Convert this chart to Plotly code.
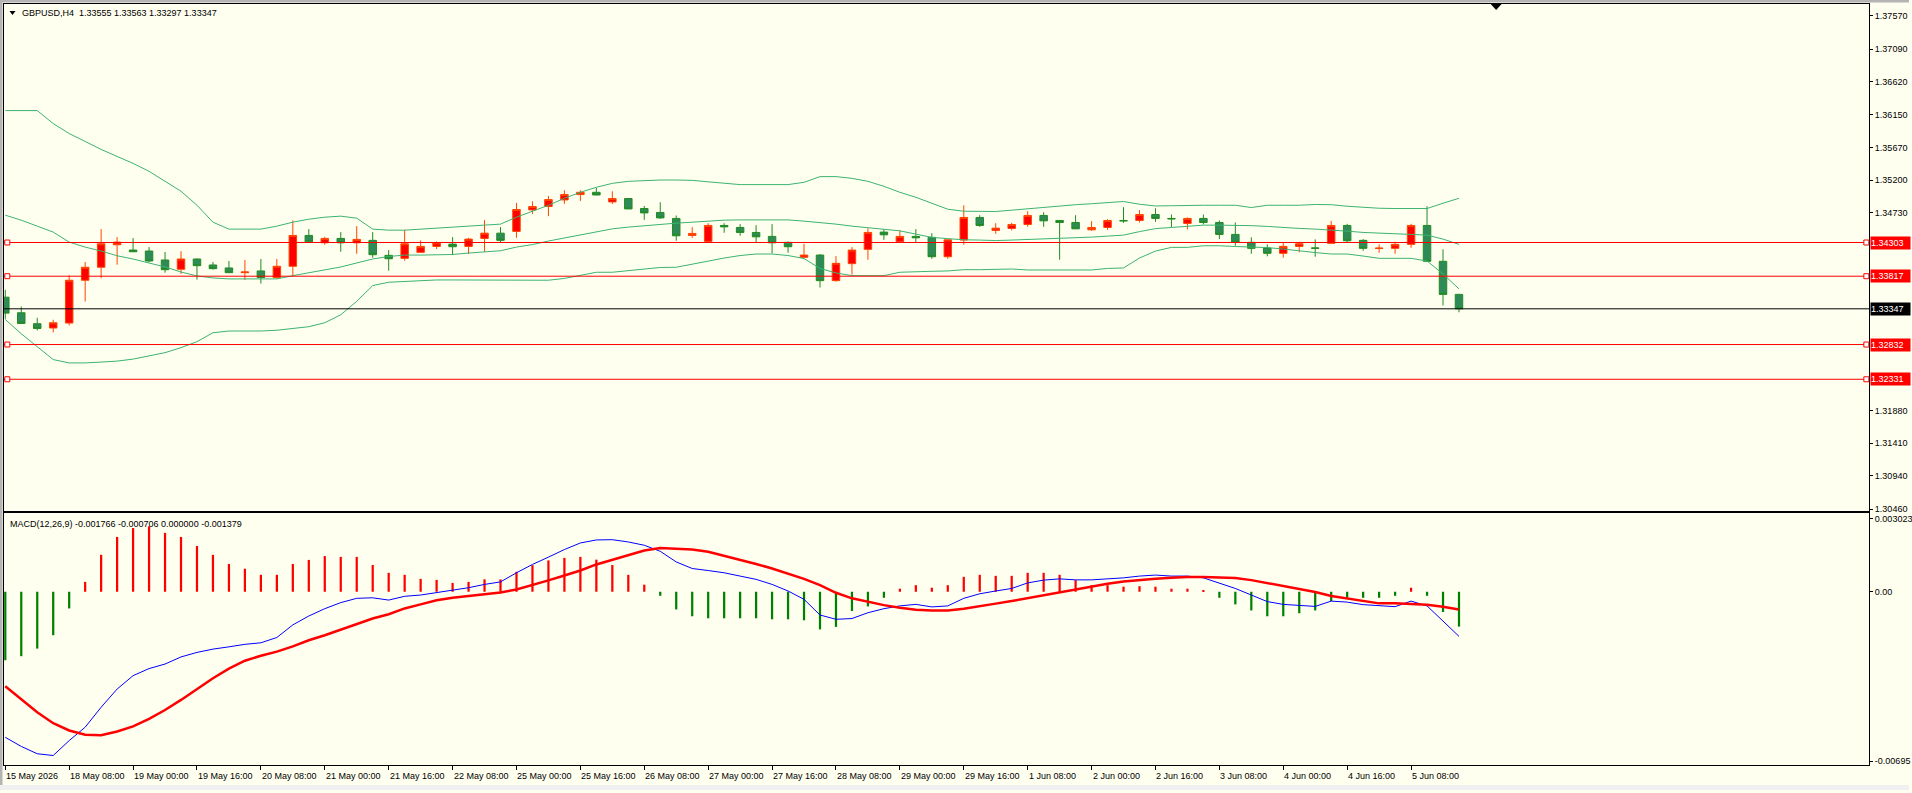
import plotly.graph_objects as go

# ---------------- data ----------------
bar_index = list(range(92))

time_labels = ["15 May 2026", "18 May 08:00", "19 May 00:00", "19 May 16:00", "20 May 08:00",
               "21 May 00:00", "21 May 16:00", "22 May 08:00", "25 May 00:00", "25 May 16:00",
               "26 May 08:00", "27 May 00:00", "27 May 16:00", "28 May 08:00", "29 May 00:00",
               "29 May 16:00", "1 Jun 08:00", "2 Jun 00:00", "2 Jun 16:00", "3 Jun 08:00",
               "4 Jun 00:00", "4 Jun 16:00", "5 Jun 08:00"]
label_bars = list(range(0, 92, 4))[:23]

open_ = [1.33515, 1.33290, 1.33132, 1.33070, 1.33142, 1.33759, 1.33946, 1.34270, 1.34194, 1.34180,
         1.34051, 1.33917, 1.34065, 1.33979, 1.33936, 1.33868, 1.33893, 1.33797, 1.33960, 1.34405,
         1.34299, 1.34362, 1.34299, 1.34334, 1.34118, 1.34075, 1.34161, 1.34247, 1.34280, 1.34247,
         1.34362, 1.34438, 1.34463, 1.34773, 1.34822, 1.34917, 1.34994, 1.35027, 1.34888, 1.34937,
         1.34793, 1.34736, 1.34650, 1.34405, 1.34319, 1.34549, 1.34520, 1.34448, 1.34391, 1.34305,
         1.34089, 1.34122, 1.33753, 1.33998, 1.34204, 1.34453, 1.34313, 1.34391, 1.34377, 1.34098,
         1.34338, 1.34664, 1.34477, 1.34506, 1.34563, 1.34693, 1.34621, 1.34592, 1.34486, 1.34520,
         1.34621, 1.34621, 1.34707, 1.34650, 1.34578, 1.34650, 1.34592, 1.34420, 1.34305, 1.34223,
         1.34147, 1.34247, 1.34225, 1.34291, 1.34549, 1.34334, 1.34216, 1.34219, 1.34276, 1.34549,
         1.34032, 1.33555]
high = [1.33620, 1.33380, 1.33218, 1.33189, 1.33831, 1.34022, 1.34496, 1.34381, 1.34367, 1.34237,
        1.34166, 1.34176, 1.34070, 1.34022, 1.34036, 1.34051, 1.34065, 1.34065, 1.34621, 1.34496,
        1.34385, 1.34453, 1.34539, 1.34453, 1.34194, 1.34486, 1.34334, 1.34319, 1.34381, 1.34371,
        1.34625, 1.34525, 1.34874, 1.34898, 1.34974, 1.35056, 1.35056, 1.35089, 1.35042, 1.34940,
        1.34830, 1.34884, 1.34693, 1.34525, 1.34582, 1.34582, 1.34568, 1.34553, 1.34568, 1.34319,
        1.34285, 1.34137, 1.34108, 1.34237, 1.34506, 1.34492, 1.34481, 1.34496, 1.34438, 1.34345,
        1.34840, 1.34697, 1.34582, 1.34586, 1.34754, 1.34740, 1.34625, 1.34697, 1.34611, 1.34639,
        1.34812, 1.34769, 1.34797, 1.34707, 1.34664, 1.34707, 1.34621, 1.34592, 1.34377, 1.34276,
        1.34309, 1.34313, 1.34348, 1.34615, 1.34572, 1.34352, 1.34276, 1.34313, 1.34572, 1.34826,
        1.34204, 1.33563]
low = [1.33203, 1.33130, 1.33035, 1.33007, 1.33107, 1.33452, 1.33788, 1.33983, 1.34165, 1.34018,
       1.33868, 1.33850, 1.33768, 1.33911, 1.33865, 1.33763, 1.33710, 1.33778, 1.33817, 1.34299,
       1.34270, 1.34170, 1.34141, 1.34084, 1.33897, 1.34041, 1.34155, 1.34209, 1.34127, 1.34137,
       1.34170, 1.34295, 1.34371, 1.34716, 1.34683, 1.34859, 1.34902, 1.34985, 1.34859, 1.34785,
       1.34629, 1.34644, 1.34328, 1.34371, 1.34315, 1.34443, 1.34400, 1.34295, 1.34147, 1.34156,
       1.34075, 1.33653, 1.33739, 1.33840, 1.34055, 1.34342, 1.34310, 1.34299, 1.34069, 1.34069,
       1.34270, 1.34529, 1.34428, 1.34477, 1.34529, 1.34529, 1.34055, 1.34496, 1.34471, 1.34486,
       1.34586, 1.34592, 1.34601, 1.34525, 1.34492, 1.34563, 1.34352, 1.34256, 1.34141, 1.34104,
       1.34084, 1.34161, 1.34098, 1.34288, 1.34299, 1.34184, 1.34155, 1.34141, 1.34227, 1.34030,
       1.33394, 1.33297]
close = [1.33285, 1.33136, 1.33064, 1.33146, 1.33759, 1.33946, 1.34285, 1.34309, 1.34170, 1.34036,
         1.33911, 1.34065, 1.33969, 1.33926, 1.33868, 1.33878, 1.33797, 1.33960, 1.34405, 1.34313,
         1.34362, 1.34299, 1.34348, 1.34127, 1.34069, 1.34285, 1.34247, 1.34299, 1.34242, 1.34352,
         1.34438, 1.34334, 1.34779, 1.34822, 1.34922, 1.34994, 1.35027, 1.34988, 1.34937, 1.34787,
         1.34730, 1.34658, 1.34400, 1.34434, 1.34549, 1.34529, 1.34448, 1.34385, 1.34299, 1.34242,
         1.34122, 1.33753, 1.34003, 1.34194, 1.34448, 1.34414, 1.34391, 1.34371, 1.34098, 1.34342,
         1.34664, 1.34549, 1.34510, 1.34563, 1.34693, 1.34615, 1.34592, 1.34500, 1.34520, 1.34621,
         1.34615, 1.34707, 1.34650, 1.34644, 1.34650, 1.34592, 1.34420, 1.34305, 1.34219, 1.34147,
         1.34247, 1.34285, 1.34220, 1.34549, 1.34328, 1.34219, 1.34222, 1.34276, 1.34549, 1.34032,
         1.33555, 1.33347]

bb_upper = [1.36205, 1.36205, 1.36205, 1.36018, 1.35874, 1.35760, 1.35645, 1.35544, 1.35444, 1.35329,
            1.35185, 1.35042, 1.34840, 1.34596, 1.34496, 1.34496, 1.34496, 1.34539, 1.34596, 1.34639,
            1.34668, 1.34683, 1.34654, 1.34496, 1.34481, 1.34481, 1.34496, 1.34510, 1.34525, 1.34539,
            1.34553, 1.34568, 1.34668, 1.34754, 1.34840, 1.34941, 1.35027, 1.35099, 1.35156, 1.35185,
            1.35199, 1.35204, 1.35204, 1.35199, 1.35178, 1.35156, 1.35138, 1.35138, 1.35138, 1.35138,
            1.35171, 1.35253, 1.35253, 1.35228, 1.35185, 1.35113, 1.35027, 1.34955, 1.34869, 1.34783,
            1.34754, 1.34750, 1.34750, 1.34769, 1.34790, 1.34812, 1.34833, 1.34848, 1.34862, 1.34876,
            1.34894, 1.34855, 1.34830, 1.34833, 1.34840, 1.34840, 1.34840, 1.34840, 1.34807, 1.34840,
            1.34840, 1.34840, 1.34851, 1.34848, 1.34826, 1.34807, 1.34797, 1.34793, 1.34793, 1.34793,
            1.34869, 1.34941]
bb_middle = [1.34697, 1.34625, 1.34539, 1.34453, 1.34309, 1.34237, 1.34180, 1.34112, 1.34065, 1.34008,
             1.33950, 1.33878, 1.33821, 1.33792, 1.33778, 1.33778, 1.33778, 1.33778, 1.33825, 1.33864,
             1.33907, 1.33950, 1.34008, 1.34065, 1.34101, 1.34122, 1.34122, 1.34122, 1.34130, 1.34151,
             1.34166, 1.34184, 1.34237, 1.34273, 1.34324, 1.34367, 1.34410, 1.34460, 1.34500, 1.34525,
             1.34546, 1.34568, 1.34582, 1.34596, 1.34611, 1.34625, 1.34629, 1.34629, 1.34629, 1.34629,
             1.34611, 1.34592, 1.34568, 1.34539, 1.34517, 1.34496, 1.34471, 1.34424, 1.34377, 1.34359,
             1.34342, 1.34338, 1.34331, 1.34338, 1.34345, 1.34352, 1.34359, 1.34367, 1.34381, 1.34395,
             1.34410, 1.34460, 1.34503, 1.34520, 1.34539, 1.34553, 1.34553, 1.34553, 1.34546, 1.34535,
             1.34517, 1.34506, 1.34496, 1.34486, 1.34467, 1.34448, 1.34438, 1.34424, 1.34420, 1.34410,
             1.34352, 1.34276]
bb_lower = [1.33193, 1.32988, 1.32801, 1.32615, 1.32567, 1.32567, 1.32579, 1.32593, 1.32622, 1.32672,
            1.32715, 1.32787, 1.32873, 1.33002, 1.33027, 1.33027, 1.33027, 1.33038, 1.33060, 1.33089,
            1.33146, 1.33261, 1.33455, 1.33682, 1.33730, 1.33742, 1.33756, 1.33763, 1.33763, 1.33763,
            1.33763, 1.33763, 1.33759, 1.33759, 1.33759, 1.33785, 1.33825, 1.33874, 1.33874, 1.33900,
            1.33921, 1.33943, 1.33946, 1.33993, 1.34039, 1.34079, 1.34115, 1.34137, 1.34137, 1.34115,
            1.34072, 1.33929, 1.33864, 1.33825, 1.33825, 1.33825, 1.33874, 1.33886, 1.33888, 1.33893,
            1.33911, 1.33911, 1.33911, 1.33921, 1.33907, 1.33907, 1.33907, 1.33907, 1.33907, 1.33929,
            1.33936, 1.34079, 1.34180, 1.34233, 1.34233, 1.34256, 1.34256, 1.34245, 1.34242, 1.34230,
            1.34209, 1.34180, 1.34158, 1.34137, 1.34137, 1.34108, 1.34075, 1.34075, 1.34075, 1.34036,
            1.33850, 1.33634]

macd_hist = [-0.00271, -0.00255, -0.00225, -0.00172, -0.00066, 0.00039, 0.00146, 0.00217, 0.00252, 0.00259,
             0.00233, 0.00217, 0.00181, 0.00146, 0.00110, 0.00091, 0.00067, 0.00067, 0.00110, 0.00126,
             0.00141, 0.00138, 0.00138, 0.00106, 0.00075, 0.00067, 0.00051, 0.00047, 0.00035, 0.00039,
             0.00049, 0.00049, 0.00079, 0.00105, 0.00124, 0.00134, 0.00138, 0.00127, 0.00106, 0.00067,
             0.00028, -0.00016, -0.00070, -0.00097, -0.00105, -0.00105, -0.00105, -0.00105, -0.00109, -0.00109,
             -0.00113, -0.00149, -0.00139, -0.00076, -0.00058, -0.00024, 0.00012, 0.00026, 0.00016, 0.00026,
             0.00059, 0.00067, 0.00063, 0.00063, 0.00075, 0.00075, 0.00067, 0.00046, 0.00026, 0.00026,
             0.00020, 0.00022, 0.00020, 0.00012, 0.00012, 0.00003, -0.00024, -0.00050, -0.00074, -0.00097,
             -0.00097, -0.00085, -0.00074, -0.00037, -0.00024, -0.00024, -0.00024, -0.00016, 0.00016, -0.00016,
             -0.00080, -0.001379]
macd_main = [-0.00576, -0.00612, -0.00641, -0.00648, -0.00589, -0.00536, -0.00457, -0.00385, -0.00332, -0.00304,
             -0.00286, -0.00258, -0.00240, -0.00227, -0.00218, -0.00208, -0.00202, -0.00181, -0.00131, -0.00096,
             -0.00067, -0.00043, -0.00026, -0.00024, -0.00033, -0.00018, -0.00013, -0.00004, 0.00005, 0.00016,
             0.00029, 0.00039, 0.00075, 0.00108, 0.00137, 0.00167, 0.00193, 0.00205, 0.00206, 0.00197,
             0.00184, 0.00160, 0.00118, 0.00092, 0.00084, 0.00075, 0.00062, 0.00049, 0.00029, 0.00003,
             -0.00030, -0.00092, -0.00109, -0.00106, -0.00083, -0.00067, -0.00056, -0.00050, -0.00060, -0.00056,
             -0.00026, -0.00008, 0.00003, 0.00013, 0.00035, 0.00046, 0.00051, 0.00047, 0.00047, 0.00050,
             0.00055, 0.00062, 0.00066, 0.00062, 0.00062, 0.00055, 0.00035, 0.00013, -0.00013, -0.00039,
             -0.00050, -0.00053, -0.00058, -0.00037, -0.00041, -0.00051, -0.00056, -0.00059, -0.00037, -0.00056,
             -0.00116, -0.001766]
macd_signal = [-0.00374, -0.00424, -0.00477, -0.00520, -0.00549, -0.00566, -0.00568, -0.00553, -0.00533, -0.00503,
               -0.00468, -0.00428, -0.00385, -0.00342, -0.00304, -0.00273, -0.00253, -0.00237, -0.00216, -0.00192,
               -0.00172, -0.00149, -0.00129, -0.00106, -0.00089, -0.00066, -0.00050, -0.00034, -0.00024, -0.00017,
               -0.00011, -0.00003, 0.00009, 0.00026, 0.00045, 0.00064, 0.00084, 0.00108, 0.00127, 0.00147,
               0.00163, 0.00173, 0.00171, 0.00167, 0.00158, 0.00143, 0.00127, 0.00110, 0.00092, 0.00072,
               0.00051, 0.00026, -0.00004, -0.00026, -0.00041, -0.00053, -0.00063, -0.00071, -0.00074, -0.00074,
               -0.00067, -0.00056, -0.00047, -0.00037, -0.00025, -0.00013, -0.00001, 0.00009, 0.00021, 0.00032,
               0.00041, 0.00047, 0.00051, 0.00055, 0.00058, 0.00058, 0.00057, 0.00054, 0.00046, 0.00035,
               0.00024, 0.00012, -0.00001, -0.00017, -0.00026, -0.00038, -0.00046, -0.00046, -0.00047, -0.00051,
               -0.00059, -0.000706]

level_lines = [1.34303, 1.33817, 1.32832, 1.32331]
bid_price = 1.33347
price_ticks = [1.37570, 1.37090, 1.36620, 1.36150, 1.35670, 1.35200, 1.34730,
               1.31880, 1.31410, 1.30940, 1.30460]
macd_tick_vals = [0.00288, 0.0, -0.0067]
macd_tick_text = ["0.003023", "0.00", "-0.00695"]

title_text = "GBPUSD,H4&nbsp; 1.33555 1.33563 1.33297 1.33347"
macd_text = "MACD(12,26,9) -0.001766 -0.000706 0.000000 -0.001379"

# ---------------- styling ----------------
W, H = 1912, 793
BG = "#FFFFF0"
FONT = "Liberation Sans, Arial, sans-serif"
FS = 9
BB_COLOR = "#3CB371"

def px_x(p):
    return p / W

def px_y(p):
    return 1 - p / H

x_dom = [px_x(4), px_x(1872)]
main_dom = [px_y(513), px_y(4)]
macd_dom = [px_y(768), px_y(515)]
x_range = [-0.081, 116.67]

fig = go.Figure()

fig.add_trace(go.Candlestick(
    x=bar_index, open=open_, high=high, low=low, close=close,
    increasing=dict(line=dict(color="#FF4500", width=1), fillcolor="#FF0000"),
    decreasing=dict(line=dict(color="#228B22", width=1), fillcolor="#2E8B57"),
    whiskerwidth=0, xaxis="x", yaxis="y", hoverinfo="skip"))

for band in (bb_upper, bb_middle, bb_lower):
    fig.add_trace(go.Scatter(x=bar_index, y=band, mode="lines",
                             line=dict(color=BB_COLOR, width=1),
                             xaxis="x", yaxis="y", hoverinfo="skip"))

fig.add_trace(go.Bar(x=bar_index, y=macd_hist, width=0.14,
                     marker=dict(color=["#FF0000" if v > 0 else "#008000" for v in macd_hist],
                                 line=dict(width=0)),
                     xaxis="x2", yaxis="y2", hoverinfo="skip"))
fig.add_trace(go.Scatter(x=bar_index, y=macd_main, mode="lines",
                         line=dict(color="#0000FF", width=1),
                         xaxis="x2", yaxis="y2", hoverinfo="skip"))
fig.add_trace(go.Scatter(x=bar_index, y=macd_signal, mode="lines",
                         line=dict(color="#FF0000", width=2.5),
                         xaxis="x2", yaxis="y2", hoverinfo="skip"))

shapes = []
for lv in level_lines:
    shapes.append(dict(type="line", xref="x domain", yref="y", x0=0, x1=1, y0=lv, y1=lv,
                       line=dict(color="#FF0000", width=1)))
    for xa in (0.125, 116.5):
        shapes.append(dict(type="rect", xref="x", yref="y", xsizemode="pixel", ysizemode="pixel",
                           xanchor=xa, yanchor=lv, x0=-2.5, x1=2.5, y0=-2.5, y1=2.5,
                           line=dict(color="#FF0000", width=1), fillcolor="#FFFFFF"))
shapes.append(dict(type="line", xref="x domain", yref="y", x0=0, x1=1, y0=bid_price, y1=bid_price,
                   line=dict(color="#000000", width=1)))
shapes.append(dict(type="rect", xref="paper", yref="paper", x0=0, x1=px_x(2.5), y0=0, y1=1,
                   fillcolor="#B4B4B4", line=dict(width=0), layer="below"))
shapes.append(dict(type="rect", xref="paper", yref="paper", x0=0, x1=1, y0=px_y(2.5), y1=1,
                   fillcolor="#B4B4B4", line=dict(width=0), layer="below"))
shapes.append(dict(type="rect", xref="paper", yref="paper", x0=0, x1=1, y0=0, y1=px_y(788),
                   fillcolor="#F0F0F0", line=dict(width=0), layer="below"))
shapes.append(dict(type="path", xref="paper", yref="paper",
                   path=f"M {px_x(9.5)} {px_y(11)} L {px_x(15.5)} {px_y(11)} L {px_x(12.5)} {px_y(15)} Z",
                   fillcolor="#000000", line=dict(width=0)))
shapes.append(dict(type="path", xref="paper", yref="paper",
                   path=f"M {px_x(1493)} {px_y(4)} L {px_x(1504)} {px_y(4)} L {px_x(1498.5)} {px_y(10)} Z",
                   fillcolor="#000000", line=dict(width=0)))

annotations = []
annotations.append(dict(text=title_text, x=px_x(20), y=px_y(13), xref="paper", yref="paper",
                        xanchor="left", yanchor="middle", showarrow=False,
                        font=dict(family=FONT, size=FS, color="#000000")))
annotations.append(dict(text=macd_text, x=px_x(8), y=px_y(526), xref="paper", yref="paper",
                        xanchor="left", yanchor="middle", showarrow=False,
                        font=dict(family=FONT, size=FS, color="#000000")))
for b, t in zip(label_bars, time_labels):
    annotations.append(dict(text=t, x=b, y=px_y(779), xref="x2", yref="paper",
                            xanchor="left", yanchor="middle", showarrow=False, xshift=-1,
                            font=dict(family=FONT, size=FS, color="#000000")))
for lv in level_lines:
    annotations.append(dict(text=f"{lv:.5f}", x=px_x(1873), y=lv, xref="paper", yref="y",
                            xanchor="left", yanchor="middle", showarrow=False,
                            bgcolor="#FF0000", borderpad=0, width=39, height=12, align="left",
                            font=dict(family=FONT, size=FS, color="#FFFFFF")))
annotations.append(dict(text=f"{bid_price:.5f}", x=px_x(1873), y=bid_price, xref="paper", yref="y",
                        xanchor="left", yanchor="middle", showarrow=False,
                        bgcolor="#000000", borderpad=0, width=39, height=12, align="left",
                        font=dict(family=FONT, size=FS, color="#FFFFFF")))

axis_common = dict(showline=True, mirror=True, linecolor="#000000", linewidth=1,
                   showgrid=False, zeroline=False, fixedrange=True)

fig.update_layout(
    width=W, height=H, margin=dict(l=0, r=0, t=0, b=0, pad=0),
    paper_bgcolor=BG, plot_bgcolor=BG, showlegend=False, boxgap=0.33,
    font=dict(family=FONT, size=FS, color="#000000"),
    xaxis=dict(domain=x_dom, anchor="y", range=x_range, showticklabels=False, ticks="",
               rangeslider=dict(visible=False), **axis_common),
    yaxis=dict(domain=main_dom, anchor="x", side="right", range=[1.30431, 1.37742],
               tickvals=price_ticks, ticktext=[f"{v:.5f}" for v in price_ticks],
               ticks="outside", ticklen=3, tickcolor="#000000",
               tickfont=dict(family=FONT, size=FS, color="#000000"), **axis_common),
    xaxis2=dict(domain=x_dom, anchor="y2", range=x_range, matches="x",
                tickvals=label_bars, showticklabels=False, ticks="outside", ticklen=4,
                tickcolor="#000000", **axis_common),
    yaxis2=dict(domain=macd_dom, anchor="x2", side="right", range=[-0.006859, 0.003114],
                tickvals=macd_tick_vals, ticktext=macd_tick_text,
                ticks="outside", ticklen=3, tickcolor="#000000",
                tickfont=dict(family=FONT, size=FS, color="#000000"), **axis_common),
    shapes=shapes, annotations=annotations,
)

fig.write_html("out.html")
